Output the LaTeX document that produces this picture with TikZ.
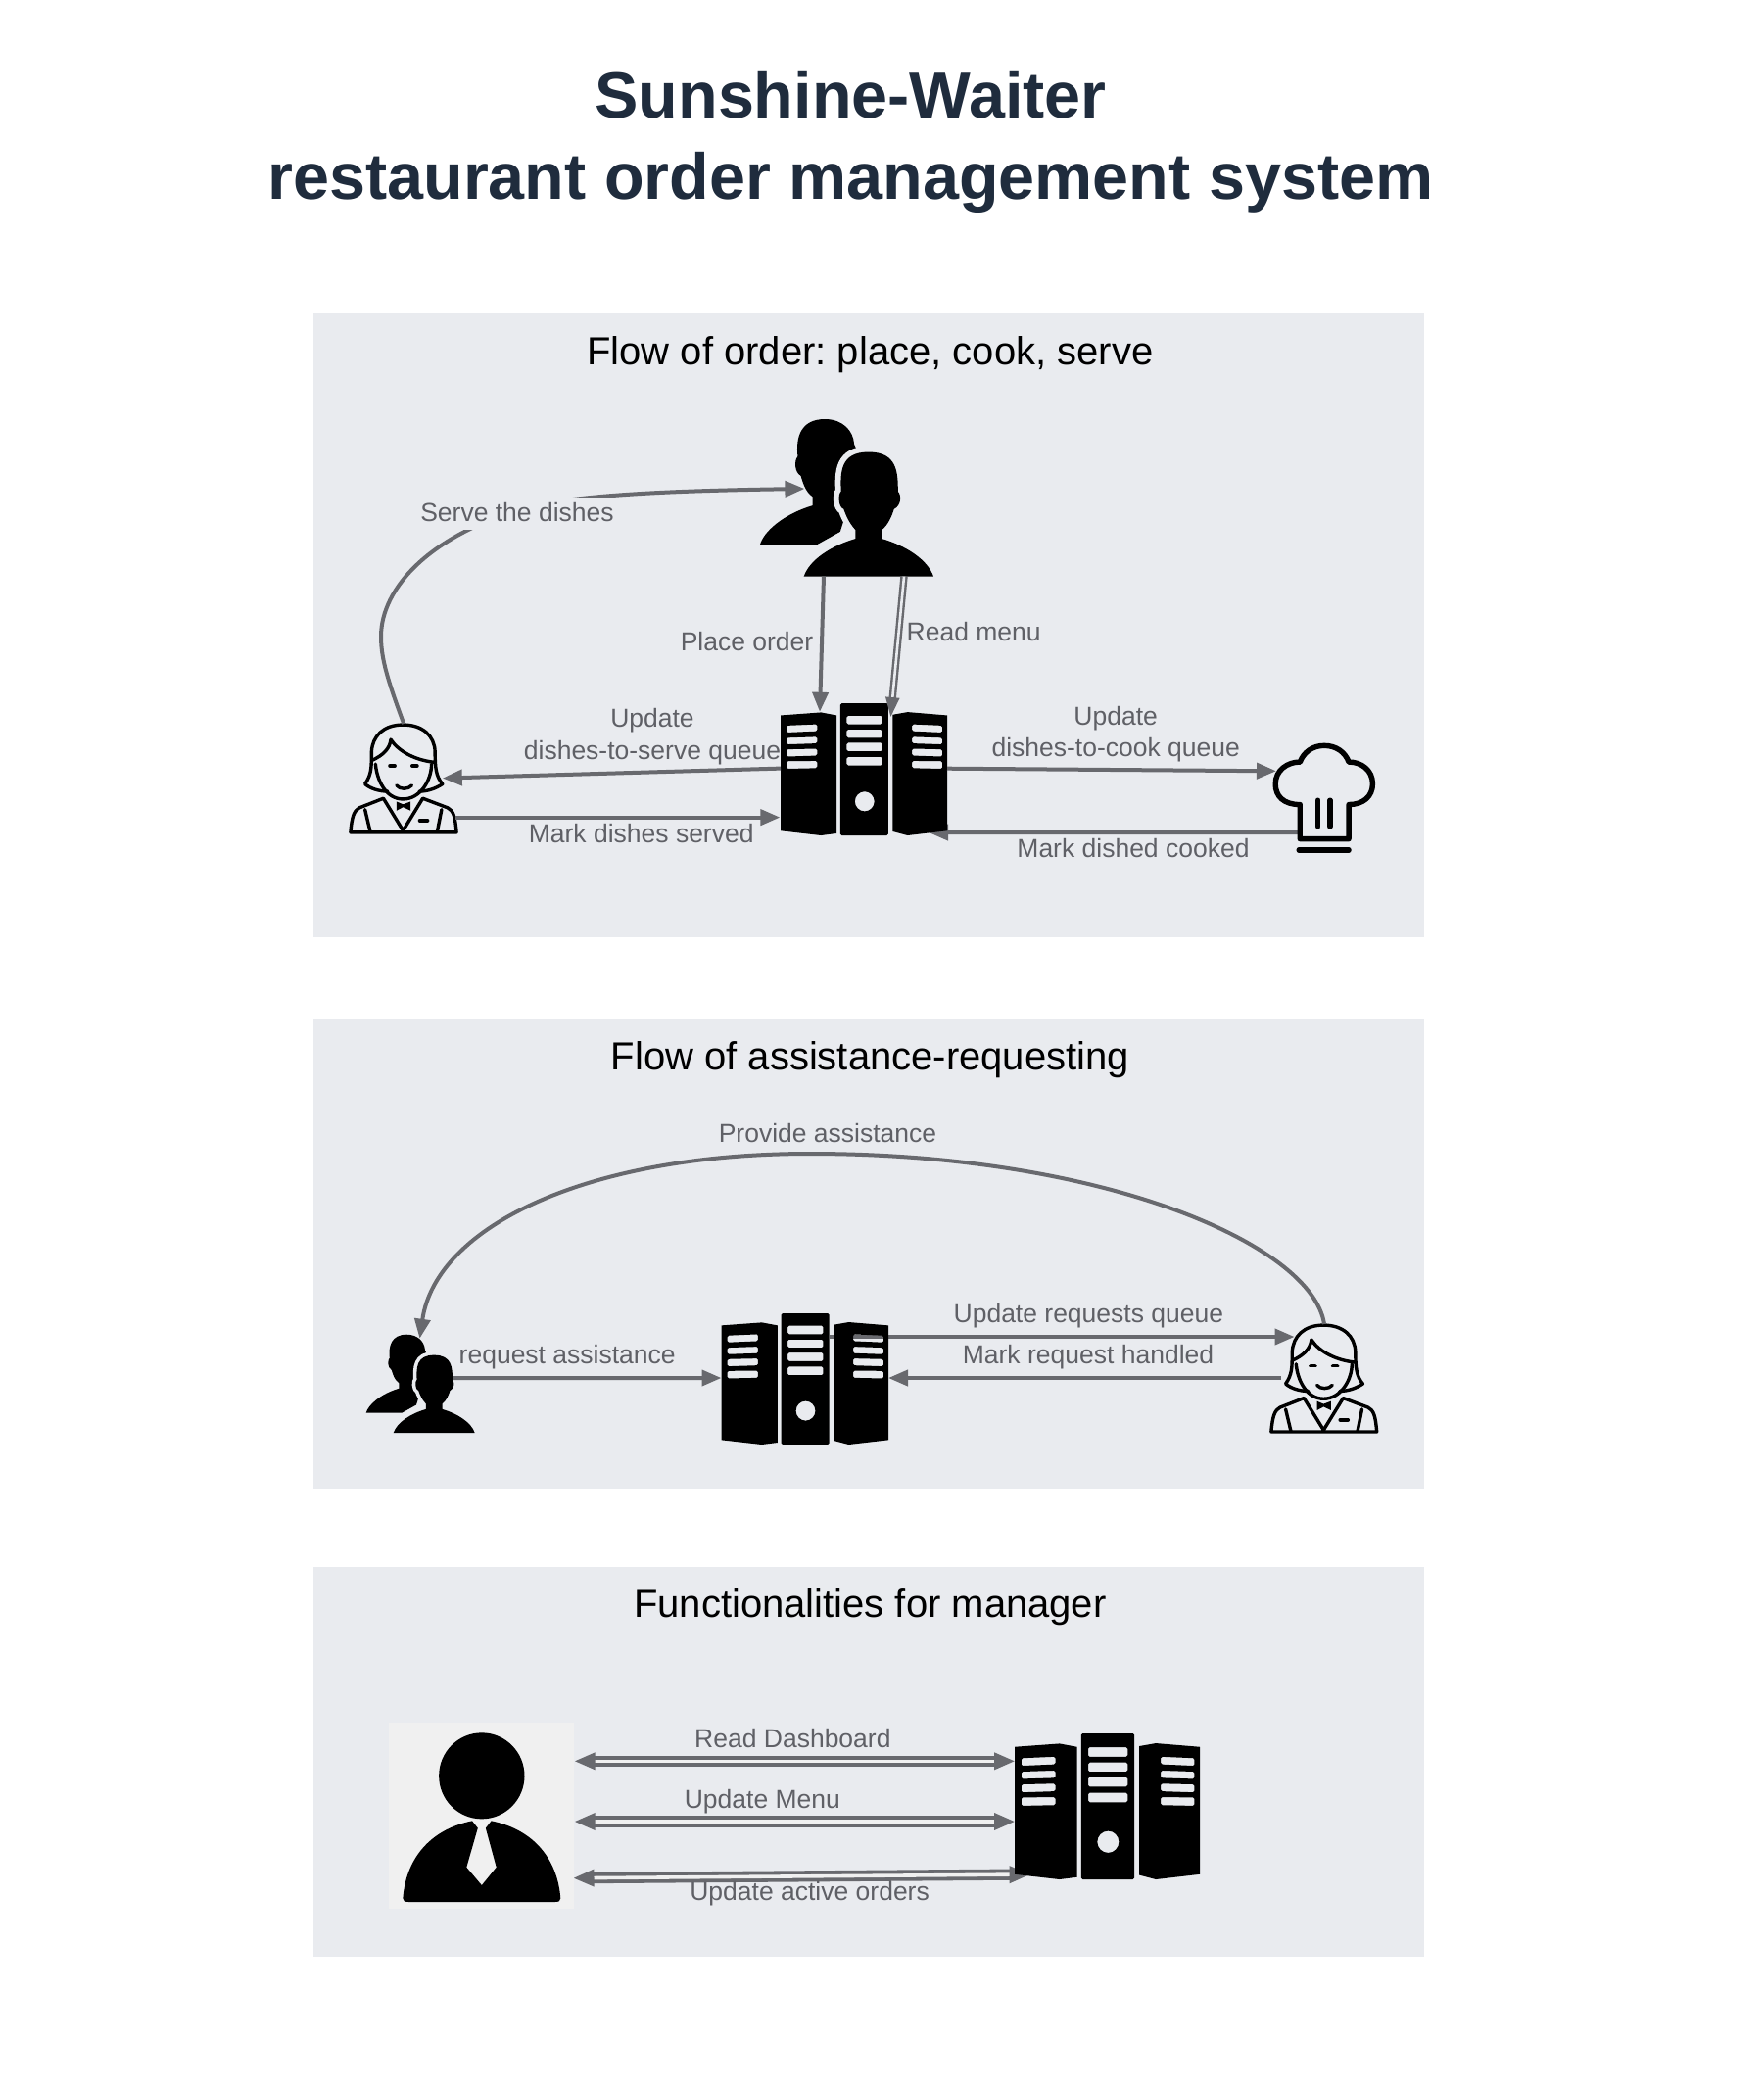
\documentclass[tikz,border=0pt]{standalone}
\usepackage{fontspec}
\setmainfont{Liberation Sans}
\usetikzlibrary{arrows.meta}
\definecolor{panelc}{HTML}{E9EBEF}
\definecolor{linec}{HTML}{68696E}
\definecolor{labelc}{HTML}{5F6066}
\definecolor{titlec}{HTML}{1F2C3D}
\definecolor{mgrc}{HTML}{F0F0F0}
\frenchspacing
\tikzset{
  panel/.style={fill=panelc,draw=none},
  flow/.style={draw=linec,line width=4pt,-{Triangle[length=20pt,width=16pt]}},
  flowb/.style={draw=linec,line width=3.8pt,double=mgrc,double distance=3.6pt,{Triangle[length=21pt,width=17pt]}-{Triangle[length=21pt,width=17pt]}},
  flowd/.style={draw=linec,line width=2.4pt,double=panelc,double distance=2.6pt,-{Triangle[length=20pt,width=14pt]}},
  lbl/.style={text=labelc,font=\fontsize{26.5}{32.5}\selectfont,align=center,inner sep=0pt},
  ptitle/.style={text=black,font=\fontsize{40}{48}\selectfont,inner sep=0pt},
  mtitle/.style={text=titlec,font=\fontsize{66.5}{83}\bfseries\selectfont,align=center,inner sep=0pt},
  ink/.style={draw=black,line cap=round,line join=round,fill=none}
}
\newcommand{\iconbox}[5]{\node[inner sep=0pt,outer sep=0pt,minimum width={(#4-#2)*1pt},minimum height={(#5-#3)*1pt}] (#1) at ({(#2+#4)/2},{(#3+#5)/2}) {};}
\newenvironment{iconmap}[8]{\begin{scope}[shift={(#1,#2)},xscale={(#3-#1)/(#7-#5)},yscale={(#4-#2)/(#8-#6)},shift={(-#5,-#6)}]}{\end{scope}}
\newcommand{\serverpic}[4]{%
\begin{iconmap}{#1}{#2}{#3}{#4}{1010}{123}{1456}{524}
\fill[black,even odd rule]
  (1010,160) -- (1118,151) -- (1160,160) -- (1160,518) -- (1118,524) -- (1010,510) -- cycle
  [rounded corners=1.5pt]
  (1026,191) -- (1108,187) -- (1108,208) -- (1026,212) -- cycle
  (1026,228) -- (1108,225) -- (1108,245) -- (1026,248) -- cycle
  (1026,263) -- (1108,261) -- (1108,282) -- (1026,285) -- cycle
  (1026,299) -- (1108,298) -- (1108,320) -- (1026,322) -- cycle
  (1187,161) -- (1282,161) -- (1282,187) -- (1187,187) -- cycle
  (1187,203) -- (1282,203) -- (1282,228) -- (1187,228) -- cycle
  (1187,243) -- (1282,243) -- (1282,269) -- (1187,269) -- cycle
  (1187,286) -- (1282,286) -- (1282,312) -- (1187,312) -- cycle
  (1170,123) -- (1298,123) -- (1298,524) -- (1170,524) -- cycle
  [rounded corners=0pt]
  (1235,421) ellipse [x radius=26,y radius=30]
  (1310,158) -- (1350,150) -- (1456,160) -- (1456,510) -- (1350,524) -- (1310,512) -- cycle
  [rounded corners=1.5pt]
  (1362,187) -- (1443,191) -- (1443,212) -- (1362,208) -- cycle
  (1362,225) -- (1443,228) -- (1443,248) -- (1362,245) -- cycle
  (1362,261) -- (1443,263) -- (1443,285) -- (1362,282) -- cycle
  (1362,298) -- (1443,299) -- (1443,322) -- (1362,320) -- cycle;
\end{iconmap}}
\newcommand{\customerspic}[4]{%
\begin{iconmap}{#1}{#2}{#3}{#4}{1067}{78}{1463}{528}
\fill[black] (1067,437) .. controls (1075,400) and (1120,350) .. (1187,325) -- (1187,300)
  .. controls (1170,285) and (1165,260) .. (1160,240)
  .. controls (1145,230) and (1145,195) .. (1153,185)
  .. controls (1148,130) and (1160,78) .. (1215,78)
  .. controls (1255,78) and (1280,110) .. (1282,150) -- (1300,200) -- (1250,400) -- (1197,437) -- cycle;
\def\frontperson{(1167,528) .. controls (1180,480) and (1230,440) .. (1285,420) -- (1285,395)
  .. controls (1270,375) and (1262,350) .. (1258,335)
  .. controls (1245,330) and (1245,290) .. (1252,285)
  .. controls (1250,230) and (1250,172) .. (1315,172)
  .. controls (1380,172) and (1382,230) .. (1382,285)
  .. controls (1390,295) and (1390,325) .. (1373,335)
  .. controls (1368,355) and (1360,380) .. (1345,395) -- (1345,420)
  .. controls (1400,440) and (1450,480) .. (1463,528) -- cycle}
\path[draw=panelc,line width={0.065*(#3-#1)*1pt},line join=round] \frontperson;
\fill[panelc] (1340,528) rectangle (1480,560);
\fill[black] \frontperson;
\end{iconmap}}
\newcommand{\waiterpic}[4]{%
\begin{iconmap}{#1}{#2}{#3}{#4}{128}{950}{375}{1263}
\draw[ink,line width=3.4pt] (215,1143) .. controls (195,1143) and (175,1135) .. (163,1122)
  .. controls (178,1095) and (178,1075) .. (178,1030)
  .. controls (180,985) and (205,953) .. (250,953)
  .. controls (295,953) and (322,985) .. (323,1030)
  .. controls (323,1075) and (325,1100) .. (340,1122)
  .. controls (325,1135) and (305,1143) .. (287,1143);
\draw[ink,line width=3.4pt] (178,1055) .. controls (205,1040) and (220,1020) .. (222,995)
  .. controls (240,1030) and (280,1055) .. (323,1060);
\draw[ink,line width=3.4pt] (187,1065) .. controls (190,1110) and (210,1165) .. (250,1165)
  .. controls (290,1165) and (315,1110) .. (315,1065);
\draw[ink,line width=3.8pt] (220,1070) -- (231,1070) (271,1070) -- (282,1070);
\draw[ink,line width=3.4pt] (235,1126) .. controls (242,1138) and (262,1138) .. (270,1126);
\fill[black] (235,1172) -- (250,1180) -- (267,1172) -- (267,1198) -- (250,1188) -- (235,1198) -- cycle;
\draw[ink,line width=3.4pt] (130,1260) .. controls (133,1215) and (138,1198) .. (150,1190) -- (205,1163) -- (250,1255) -- (295,1163) -- (352,1190)
  .. controls (365,1198) and (369,1215) .. (372,1260) -- cycle;
\draw[ink,line width=3.4pt] (163,1195) -- (175,1258) (338,1195) -- (328,1258);
\draw[ink,line width=3.6pt] (288,1226) -- (306,1226);
\end{iconmap}}
\newcommand{\chefpic}[4]{%
\begin{iconmap}{#1}{#2}{#3}{#4}{1080}{238}{1363}{572}
\draw[ink,line width=5.4pt] (1155,425) .. controls (1110,425) and (1087,400) .. (1087,362)
  .. controls (1087,320) and (1120,295) .. (1155,295)
  .. controls (1165,265) and (1190,245) .. (1222,245)
  .. controls (1255,245) and (1280,265) .. (1290,295)
  .. controls (1325,295) and (1356,320) .. (1356,362)
  .. controls (1356,400) and (1330,425) .. (1290,425)
  -- (1290,530) -- (1155,530) -- cycle;
\draw[ink,line width=5.4pt] (1152,564) -- (1290,564) (1205,412) -- (1205,492) (1238,412) -- (1238,492);
\end{iconmap}}
\newcommand{\managerpic}[4]{%
\begin{iconmap}{#1}{#2}{#3}{#4}{30}{57}{358}{627}
\fill[mgrc] (30,57) rectangle (358,627);
\fill[black] (195,220) ellipse [x radius=76,y radius=132];
\fill[black] (55,595) .. controls (60,480) and (100,385) .. (178,358) -- (188,380) -- (168,500) -- (195,555) -- (221,500) -- (202,380) -- (212,358)
  .. controls (290,385) and (330,480) .. (335,595) .. controls (335,603) and (332,606) .. (325,606) -- (65,606) .. controls (58,606) and (55,603) .. (55,595) -- cycle;
\end{iconmap}}
\begin{document}
\begin{tikzpicture}[x=1pt,y=-1pt]
\useasboundingbox (0,0) rectangle (1800,2129);
\fill[white] (0,0) rectangle (1800,2129);
\node[mtitle] (maintitle) at (868.5,144.5) {Sunshine-Waiter\\restaurant order management system};
\fill[panel] (320,320) rectangle (1453.6,957);
\fill[panel] (320,1040) rectangle (1453.6,1520);
\fill[panel] (320,1599.5) rectangle (1453.6,1998);
\node[ptitle] (t1) at (888.4,362.5) {Flow of order: place, cook, serve};
\node[ptitle] (t2) at (888.4,1082) {Flow of assistance-requesting};
\node[ptitle] (t3) at (888.4,1641) {Functionalities for manager};
% anchors
\iconbox{srv1}{797}{718}{967}{853}
\iconbox{cust1}{776}{428}{953}{588.6}
\iconbox{wait1}{357}{739}{467.4}{851}
\iconbox{chef}{1299.6}{759}{1404}{870.7}
\iconbox{cust2}{373.7}{1362.7}{484.7}{1463}
\iconbox{srv2}{736.5}{1341}{907}{1475}
\iconbox{wait2}{1297}{1352}{1407}{1463}
\iconbox{mgr}{397}{1759}{585.5}{1949}
\iconbox{srv3}{1036}{1770}{1225}{1919}
% connectors beneath the servers
\draw[flow] ([xshift=25.9pt,yshift=-35.15pt]chef.west) -- ([xshift=-19pt,yshift=-64.5pt]srv1.east);
\draw[flow] ([xshift=25pt,yshift=-24pt]srv2.north) -- ([xshift=24.6pt,yshift=42.5pt]wait2.west);
\draw[flowb] ([yshift=-63.7pt]mgr.east) -- ([xshift=15.6pt,yshift=-69.5pt]srv3.west);
% icons
\serverpic{797}{718}{967}{853}
\serverpic{736.5}{1341}{907}{1475}
\serverpic{1036}{1770}{1225}{1919}
\customerspic{776}{428}{953}{588.6}
\customerspic{373.7}{1362.7}{484.7}{1463}
\waiterpic{357}{739}{467.4}{851}
\waiterpic{1297}{1352}{1407}{1463}
\chefpic{1299.6}{759}{1404}{870.7}
\managerpic{397}{1759}{585.5}{1949}
% connectors
\draw[flow] (wait1.north) .. controls (398,700) and (389,675) .. (389,650) .. controls (389,600) and (440,545) .. (540,518) .. controls (590,505) and (690,501) .. ([xshift=45.4pt,yshift=9.3pt]cust1.west);
\node[lbl,fill=panelc,minimum height=33pt,minimum width=200pt] (l1) at (528,524.5) {\raisebox{3.5pt}{Serve the dishes}};
\draw[flow] ([xshift=-23.5pt]cust1.south) -- ([xshift=-45pt,yshift=-8.8pt]srv1.north);
\draw[flowd] ([xshift=58.5pt]cust1.south) -- ([xshift=27.4pt,yshift=-14pt]srv1.north);
\draw[flow] ([yshift=.9pt]srv1.west) -- ([xshift=-15.6pt,yshift=.4pt]wait1.east);
\draw[flow] ([xshift=-2.4pt,yshift=-39.6pt]wait1.east) -- ([xshift=-.6pt,yshift=-49.1pt]srv1.west);
\draw[flow] ([yshift=.8pt]srv1.east) -- ([xshift=3.4pt,yshift=27.55pt]chef.west);
\draw[flow] (wait2.north) .. controls (1340,1272) and (1130,1178) .. (827,1178) .. controls (600,1178) and (445,1252) .. ([xshift=-.7pt,yshift=-4pt]cust2.north);
\draw[flow] ([xshift=-21.7pt,yshift=5.85pt]cust2.east) -- ([yshift=1pt]srv2.west);
\draw[flow] ([xshift=11pt,yshift=.5pt]wait2.west) -- ([yshift=1pt]srv2.east);
\draw[flowb] ([xshift=1.2pt,yshift=55.7pt]mgr.east) -- ([yshift=46.2pt]srv3.west);
\draw[flowb] ([xshift=1.2pt,yshift=-6pt]mgr.east) -- ([yshift=-15.5pt]srv3.west);
% labels
\node[lbl] (l2) at (762.5,655) {Place order};
\node[lbl,anchor=west] (l3) at (925.5,645.5) {Read menu};
\node[lbl] (l4) at (666,752) {Update\\dishes-to-serve queue};
\node[lbl] (l5) at (654.7,850.7) {Mark dishes served};
\node[lbl] (l6) at (1139.2,749.7) {Update\\dishes-to-cook queue};
\node[lbl] (l7) at (1157,866) {Mark dished cooked};
\node[lbl] (l8) at (845,1157.5) {Provide assistance};
\node[lbl] (l9) at (579.2,1386) {request assistance};
\node[lbl] (l10) at (1111.4,1344) {Update requests queue};
\node[lbl] (l11) at (1111,1386) {Mark request handled};
\node[lbl] (l12) at (809.4,1775) {Read Dashboard};
\node[lbl] (l13) at (778.4,1839.7) {Update Menu};
\node[lbl] (l14) at (826.6,1933.5) {Update active orders};
\end{tikzpicture}
\end{document}
